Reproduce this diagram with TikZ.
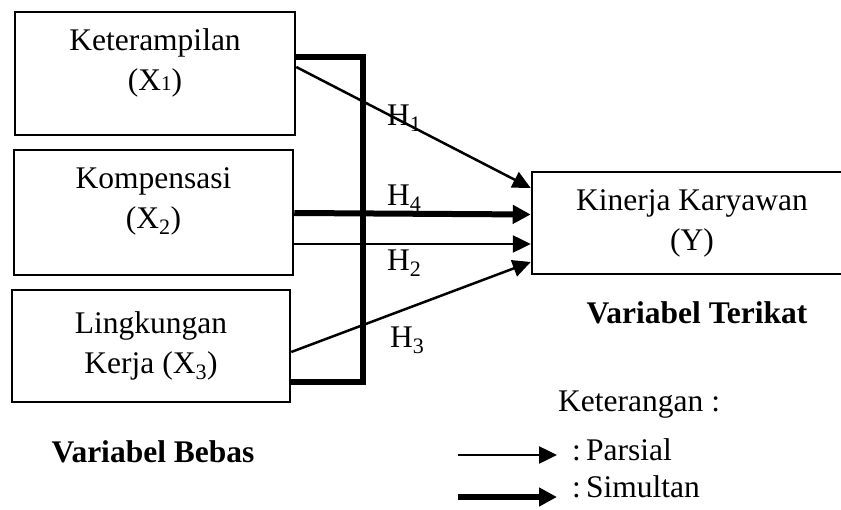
\documentclass[tikz,border=0pt]{standalone}
\usepackage{fontspec}
\setmainfont{Liberation Serif}
\usetikzlibrary{arrows.meta}

\begin{document}
\begin{tikzpicture}[x=1pt, y=-1pt,
        font=\fontsize{31.5}{40}\selectfont,
        box/.style={draw, line width=2.5pt, rectangle, inner sep=0pt, align=center},
        parsial/.style={line width=2.5pt, -{Triangle[length=18pt,width=17pt]}},
        simultan/.style={line width=6pt, -{Triangle[length=18pt,width=18pt]}},
        hlabel/.style={anchor=west, inner sep=0pt}]
        \useasboundingbox (0,0) rectangle (841,510);

        % variabel bebas
        \node[box, minimum width=280pt, minimum height=123pt] (k1) at (155,73.5) {Keterampilan\\(X{\fontsize{21}{21}\selectfont 1})\\[-12pt]~};
        \node[box, minimum width=279pt, minimum height=125pt] (k2) at (153.5,212.5) {Kompensasi\\(X\textsubscript{2})\\[-12pt]~};
        \node[box, minimum width=278pt, minimum height=112pt] (k3) at (151,346) {Lingkungan\\Kerja (X\textsubscript{3})};

        % variabel terikat
        \node[box, minimum width=320pt, minimum height=102pt] (y) at (692,223) {Kinerja Karyawan\\(Y)};

        % simultan
        \coordinate (bar) at (363,382);
        \draw[line width=6pt] ([yshift=16.5pt]k1.east) -| (bar) -- ([yshift=-36pt]k3.east);
        \draw[simultan] ([yshift=-0.5pt]k2.east) -- ([yshift=8.5pt]y.west);

        % parsial
        \draw[parsial] ([yshift=6.5pt]k1.east) -- ([yshift=35pt]y.west);
        \draw[parsial] ([yshift=-31.5pt]k2.east) -- ([yshift=-21pt]y.west);
        \draw[parsial] ([yshift=-6pt]k3.east) -- ([yshift=-39pt]y.west);

        % hipotesis
        \node[hlabel] (h1) at (387,118) {H\textsubscript{1}};
        \node[hlabel] (h4) at (387,198) {H\textsubscript{4}};
        \node[hlabel] (h2) at (387,263) {H\textsubscript{2}};
        \node[hlabel] (h3) at (390,340) {H\textsubscript{3}};

        \node[font=\fontsize{31.5}{40}\selectfont\bfseries] (bebas) at (153,452) {Variabel Bebas};
        \node[font=\fontsize{31.5}{40}\selectfont\bfseries] (terikat) at (697,313) {Variabel Terikat};

        % keterangan
        \node[hlabel] (ket) at (558,405) {Keterangan :};
        \node[hlabel] (lpar) at (572,450) {:\,Parsial};
        \node[hlabel] (lsim) at (572,487) {:\,Simultan};
        \coordinate (pa) at (458,455);
        \coordinate (sa) at (458,497);
        \draw[parsial] (pa) -- ([xshift=-15pt]pa -| lpar.west);
        \draw[simultan] (sa) -- ([xshift=-15pt]sa -| lsim.west);
\end{tikzpicture}
\end{document}
